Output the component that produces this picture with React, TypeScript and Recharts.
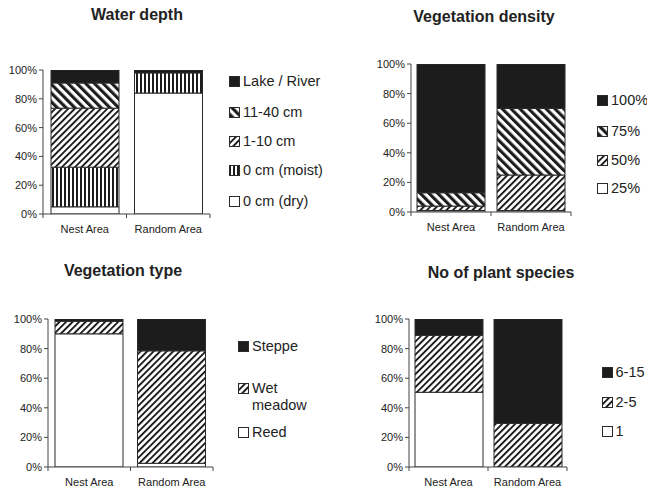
import React from "react";
import { BarChart, Bar, XAxis, YAxis, Legend } from "recharts";

// categories
const areas = ["Nest Area", "Random Area"];
const pctTicks = [0, 20, 40, 60, 80, 100];

// Water depth (%)
const depthDry = [5, 84];
const depthMoist = [27.5, 14];
const depthShallow = [41, 0];
const depthDeep = [17.5, 0];
const depthLake = [9, 2];

// Vegetation density (%)
const dens25 = [1, 1];
const dens50 = [3, 24];
const dens75 = [9, 45];
const dens100 = [87, 30];

// Vegetation type (%)
const typeReed = [90, 2.5];
const typeWet = [8.5, 76];
const typeSteppe = [1.5, 21.5];

// No of plant species (%)
const spec1 = [50.5, 0];
const spec2to5 = [38.5, 29.5];
const spec6to15 = [11, 70.5];

const INK = "#1c1c1c";
const FONT = "'Liberation Sans', Arial, sans-serif";

const fills = {
  white: "#ffffff",
  black: INK,
  vert: "url(#pVert)",
  fwd: "url(#pFwd)",
  back: "url(#pBack)",
};

type Series = { key: string; name: string; values: number[]; fill: string };

const buildRows = (series: Series[]) =>
  areas.map((area, i) => {
    const row: Record<string, string | number> = { area };
    series.forEach((s) => (row[s.key] = s.values[i]));
    return row;
  });

const panels = [
  {
    title: "Water depth",
    titleX: 137,
    titleY: 15,
    left: 0,
    top: 0,
    width: 330,
    height: 240,
    margin: { top: 70, right: 120, bottom: 0, left: 0 },
    yWidth: 43,
    xHeight: 26,
    legendX: 229,
    legendTextW: 120,
    legendY: [201.5, 170.5, 141.5, 112, 81.5],
    series: [
      { key: "dry", name: "0 cm (dry)", values: depthDry, fill: fills.white },
      { key: "moist", name: "0 cm (moist)", values: depthMoist, fill: fills.vert },
      { key: "shallow", name: "1-10 cm", values: depthShallow, fill: fills.fwd },
      { key: "deep", name: "11-40 cm", values: depthDeep, fill: fills.back },
      { key: "lake", name: "Lake / River", values: depthLake, fill: fills.black },
    ],
  },
  {
    title: "Vegetation density",
    titleX: 484,
    titleY: 17,
    left: 330,
    top: 0,
    width: 317,
    height: 240,
    margin: { top: 64, right: 76, bottom: 0, left: 0 },
    yWidth: 81,
    xHeight: 28,
    legendX: 597,
    legendTextW: 60,
    legendY: [188, 160, 131, 100.5],
    series: [
      { key: "d25", name: "25%", values: dens25, fill: fills.white },
      { key: "d50", name: "50%", values: dens50, fill: fills.fwd },
      { key: "d75", name: "75%", values: dens75, fill: fills.back },
      { key: "d100", name: "100%", values: dens100, fill: fills.black },
    ],
  },
  {
    title: "Vegetation type",
    titleX: 123,
    titleY: 271,
    left: 0,
    top: 250,
    width: 330,
    height: 239,
    margin: { top: 69, right: 117, bottom: 0, left: 0 },
    yWidth: 48,
    xHeight: 22,
    legendX: 238,
    legendTextW: 64,
    legendY: [432.5, 388, 346.5],
    series: [
      { key: "reed", name: "Reed", values: typeReed, fill: fills.white },
      { key: "wet", name: "Wet meadow", values: typeWet, fill: fills.fwd },
      { key: "steppe", name: "Steppe", values: typeSteppe, fill: fills.black },
    ],
  },
  {
    title: "No of plant species",
    titleX: 501,
    titleY: 273,
    left: 330,
    top: 250,
    width: 317,
    height: 239,
    margin: { top: 69, right: 80, bottom: 0, left: 0 },
    yWidth: 79,
    xHeight: 22,
    legendX: 601.5,
    legendTextW: 60,
    legendY: [431, 402, 372],
    series: [
      { key: "s1", name: "1", values: spec1, fill: fills.white },
      { key: "s25", name: "2-5", values: spec2to5, fill: fills.fwd },
      { key: "s615", name: "6-15", values: spec6to15, fill: fills.black },
    ],
  },
];

const Patterns = () => (
  <svg width="0" height="0" style={{ position: "absolute" }}>
    <defs>
      <pattern id="pVert" width="4" height="4" patternUnits="userSpaceOnUse">
        <rect width="4" height="4" fill="#fff" />
        <rect width="2" height="4" fill={INK} />
      </pattern>
      <pattern
        id="pFwd"
        width="4.6"
        height="4.6"
        patternUnits="userSpaceOnUse"
        patternTransform="rotate(45)"
      >
        <rect width="4.6" height="4.6" fill="#fff" />
        <rect width="1.9" height="4.6" fill={INK} />
      </pattern>
      <pattern
        id="pBack"
        width="6.2"
        height="6.2"
        patternUnits="userSpaceOnUse"
        patternTransform="rotate(-45)"
      >
        <rect width="6.2" height="6.2" fill="#fff" />
        <rect width="3.1" height="6.2" fill={INK} />
      </pattern>
    </defs>
  </svg>
);

const CatTick = (props: any) => {
  const { x, y, payload, index, half } = props;
  return (
    <g>
      {index === 0 && (
        <line x1={x - half} x2={x - half} y1={y} y2={y + 4} stroke="#444" />
      )}
      <line x1={x + half} x2={x + half} y1={y} y2={y + 4} stroke="#444" />
      <text
        x={x}
        y={y + 19}
        textAnchor="middle"
        fontSize={11}
        fill="#222"
        fontFamily={FONT}
      >
        {payload.value}
      </text>
    </g>
  );
};

const Panel = ({ p }: { p: (typeof panels)[number] }) => {
  const rows = buildRows(p.series);
  const plotW = p.width - p.yWidth - p.margin.right;
  const half = plotW / 4;
  return (
    <div style={{ position: "absolute", left: p.left, top: p.top }}>
      <BarChart
        width={p.width}
        height={p.height}
        data={rows}
        margin={p.margin}
        barSize={68}
      >
        <XAxis
          dataKey="area"
          height={p.xHeight}
          tickLine={false}
          tickSize={0}
          tickMargin={0}
          axisLine={{ stroke: "#444" }}
          tick={<CatTick half={half} />}
          interval={0}
        />
        <YAxis
          width={p.yWidth}
          domain={[0, 100]}
          ticks={pctTicks}
          tickFormatter={(v: number) => `${v}%`}
          tickSize={4}
          tickMargin={2}
          axisLine={{ stroke: "#444" }}
          tickLine={{ stroke: "#444" }}
          tick={{ fontSize: 11, fill: "#222", fontFamily: FONT }}
          allowDataOverflow
        />
        {p.series.map((s) => (
          <Bar
            key={s.key}
            dataKey={s.key}
            name={s.name}
            stackId="a"
            fill={s.fill}
            stroke="#2a2a2a"
            strokeWidth={1}
            isAnimationActive={false}
          />
        ))}
        <Legend
          layout="horizontal"
          align="center"
          verticalAlign="middle"
          wrapperStyle={{ left: p.legendX - p.left, top: 0, width: 140, height: p.height }}
          content={() => (
            <div style={{ position: "relative", width: 140, height: p.height }}>
              {p.series.map((s, i) => (
                <div
                  key={s.key}
                  style={{
                    position: "absolute",
                    left: 0,
                    top: p.legendY[i] - p.top - 8.5,
                    display: "flex",
                    alignItems: "flex-start",
                    fontFamily: FONT,
                    fontSize: 14.5,
                    lineHeight: "17px",
                    color: "#222",
                    whiteSpace: "normal",
                  }}
                >
                  <svg width={11} height={11} style={{ marginTop: 3, flex: "none" }}>
                    <rect x={0.5} y={0.5} width={10} height={10} fill={s.fill} stroke="#2a2a2a" />
                  </svg>
                  <span style={{ marginLeft: 3, width: p.legendTextW }}>{s.name}</span>
                </div>
              ))}
            </div>
          )}
        />
      </BarChart>
    </div>
  );
};

export default function App() {
  return (
    <div
      style={{
        position: "absolute",
        left: 0,
        top: 0,
        width: 647,
        height: 489,
        background: "#fff",
        overflow: "hidden",
      }}
    >
      <Patterns />
      {panels.map((p) => (
        <Panel key={p.title} p={p} />
      ))}
      {panels.map((p) => (
        <div
          key={`t-${p.title}`}
          style={{
            position: "absolute",
            left: p.titleX - 150,
            top: p.titleY - 10,
            width: 300,
            textAlign: "center",
            fontFamily: FONT,
            fontWeight: "bold",
            fontSize: 16,
            lineHeight: "20px",
            color: "#222",
          }}
        >
          {p.title}
        </div>
      ))}
    </div>
  );
}
